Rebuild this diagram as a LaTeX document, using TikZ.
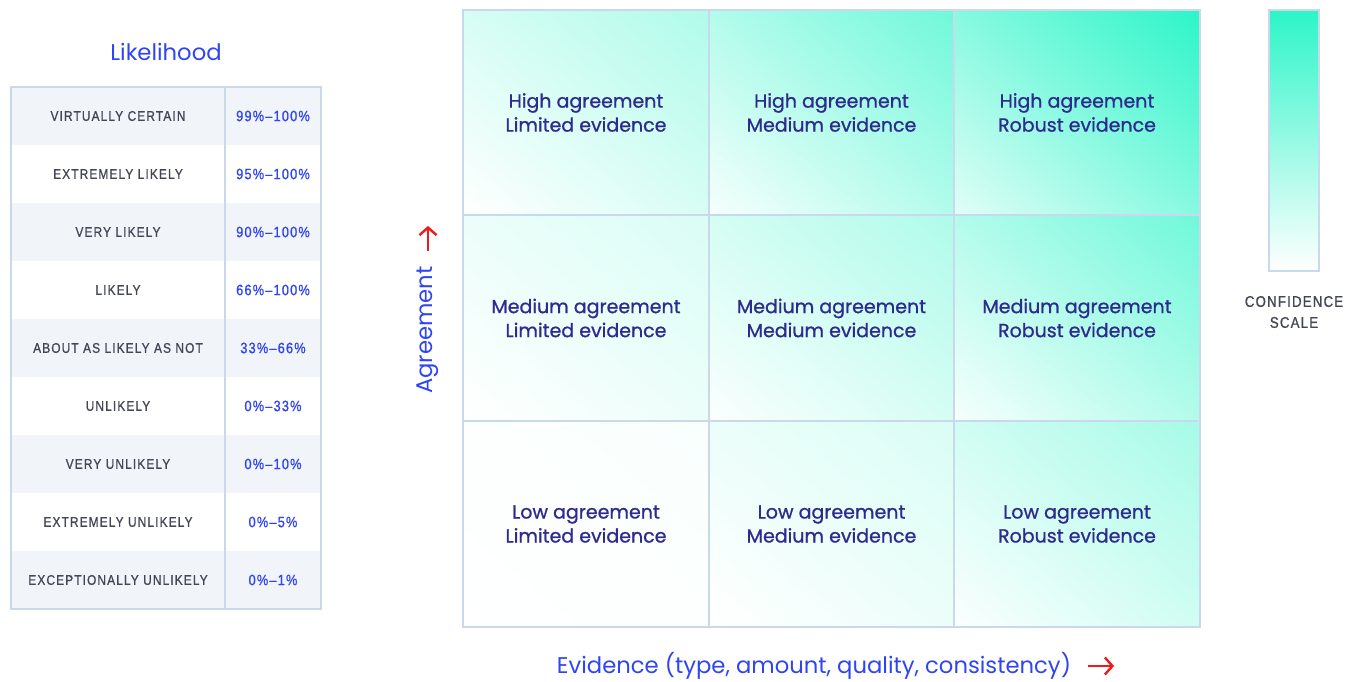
\documentclass[tikz,border=0pt]{standalone}
\usepackage{fontspec}
\setmainfont{Poppins}
\newfontfamily\cellfont[FakeBold=0.9]{Poppins}
\newfontfamily\capsfont[FakeStretch=0.85,LetterSpace=8,FakeBold=0.9]{Liberation Sans}
\usetikzlibrary{arrows.meta,positioning}

\definecolor{labelblue}{HTML}{2F45F2}
\definecolor{cellnavy}{HTML}{2E2B8E}
\definecolor{capsgray}{HTML}{434655}
\definecolor{gridline}{HTML}{C9D8EA}
\definecolor{rowgray}{HTML}{F1F5FA}
\definecolor{aqua}{HTML}{2CF5C8}
\definecolor{arrowred}{HTML}{F01818}
\colorlet{cellcolor}{aqua}
\colorlet{cellstart}{white}

% cellstart at the lower left corner, cellcolor at the upper right corner
\pgfdeclarefunctionalshading[cellcolor,cellstart]{diagfade}{\pgfpoint{0bp}{0bp}}{\pgfpoint{100bp}{100bp}}
	{\pgfshadecolortorgb{cellcolor}{\cellrgb}\pgfshadecolortorgb{cellstart}{\startrgb}}
	{add 50 sub 100 div
	 dup 0 lt {pop 0} if dup 1 gt {pop 1} if
	 dup dup
	 \cellrgbblue\space \startrgbblue\space sub mul \startrgbblue\space add
	 exch
	 \cellrgbgreen\space \startrgbgreen\space sub mul \startrgbgreen\space add
	 exch
	 3 -1 roll
	 \cellrgbred\space \startrgbred\space sub mul \startrgbred\space add
	 3 1 roll}

\begin{document}
\begin{tikzpicture}[x=1bp, y=-1bp,
		lrow/.style={minimum width=214bp, minimum height=58bp, inner sep=0pt,
			font=\capsfont\fontsize{14bp}{16bp}\selectfont, text=capsgray},
		rrow/.style={minimum width=96bp, minimum height=58bp, inner sep=0pt,
			font=\capsfont\fontsize{15bp}{16bp}\selectfont, text=labelblue},
		cell/.style={draw=gridline, line width=2bp, minimum width=245.7bp, minimum height=205.7bp,
			align=center, text=cellnavy, font=\cellfont\fontsize{19bp}{24bp}\selectfont},
		lvl/.style 2 args={/utils/exec={\colorlet{cellstart}{aqua!#1}\colorlet{cellcolor}{aqua!#2}},
			shade, shading=diagfade},
		axislabel/.style={text=labelblue, font=\fontsize{22.7bp}{26bp}\selectfont},
		redarrow/.style={draw=arrowred, line width=2.4bp, -{Straight Barb[length=7.5bp, width=17bp, line width=2.4bp]}}]
	\useasboundingbox (0,0) rectangle (1360,681);

	% likelihood table
	\node[axislabel] (title) at (166,52) {Likelihood};

	\node[lrow, fill=rowgray] (l1) at (118,116) {VIRTUALLY CERTAIN};
	\node[rrow, fill=rowgray] (r1) at (273,116) {99\%–100\%};
	\node[lrow] (l2) at (118,174) {EXTREMELY LIKELY};
	\node[rrow] (r2) at (273,174) {95\%–100\%};
	\node[lrow, fill=rowgray] (l3) at (118,232) {VERY LIKELY};
	\node[rrow, fill=rowgray] (r3) at (273,232) {90\%–100\%};
	\node[lrow] (l4) at (118,290) {LIKELY};
	\node[rrow] (r4) at (273,290) {66\%–100\%};
	\node[lrow, fill=rowgray] (l5) at (118,348) {ABOUT AS LIKELY AS NOT};
	\node[rrow, fill=rowgray] (r5) at (273,348) {33\%–66\%};
	\node[lrow] (l6) at (118,406) {UNLIKELY};
	\node[rrow] (r6) at (273,406) {0\%–33\%};
	\node[lrow, fill=rowgray] (l7) at (118,464) {VERY UNLIKELY};
	\node[rrow, fill=rowgray] (r7) at (273,464) {0\%–10\%};
	\node[lrow] (l8) at (118,522) {EXTREMELY UNLIKELY};
	\node[rrow] (r8) at (273,522) {0\%–5\%};
	\node[lrow, fill=rowgray] (l9) at (118,580) {EXCEPTIONALLY UNLIKELY};
	\node[rrow, fill=rowgray] (r9) at (273,580) {0\%–1\%};

	\draw[gridline, line width=2bp] (l1.north west) rectangle (r9.south east);
	\draw[gridline, line width=2bp] (l1.north east) -- (l9.south east);

	% confidence matrix
	\node[cell, lvl={0}{38}] (hl) at (586,112.5) {High agreement\\Limited evidence};
	\node[cell, lvl={4}{68}] (hm) at (831.5,112.5) {High agreement\\Medium evidence};
	\node[cell, lvl={14}{100}] (hr) at (1077,112.5) {High agreement\\Robust evidence};
	\node[cell, lvl={0}{18}] (ml) at (586,318) {Medium agreement\\Limited evidence};
	\node[cell, lvl={2}{38}] (mm) at (831.5,318) {Medium agreement\\Medium evidence};
	\node[cell, lvl={4}{68}] (mr) at (1077,318) {Medium agreement\\Robust evidence};
	\node[cell, lvl={0}{3}] (ll) at (586,524) {Low agreement\\Limited evidence};
	\node[cell, lvl={0}{18}] (lm) at (831.5,524) {Low agreement\\Medium evidence};
	\node[cell, lvl={2}{42}] (lr) at (1077,524) {Low agreement\\Robust evidence};

	% axes
	\node[axislabel, rotate=90] (agree) at (428,330) {Agreement};
	\coordinate (agreefoot) at (428,251);
	\coordinate (agreetip) at (428,226);
	\draw[redarrow] (agreefoot) -- (agreetip);

	\node[axislabel] (evid) at (814,666) {Evidence (type, amount, quality, consistency)};
	\coordinate (evidfoot) at (1088,666);
	\coordinate (evidtip) at (1114,666);
	\draw[redarrow] (evidfoot) -- (evidtip);

	% scale bar
	\node[draw=gridline, line width=2bp, minimum width=50bp, minimum height=261bp,
		top color=aqua, middle color=aqua!40, bottom color=white] (bar) at (1294,140.5) {};
	\node[align=center, text=capsgray, font=\capsfont\fontsize{15.5bp}{21bp}\selectfont] (scale) at (1294,312) {CONFIDENCE\\SCALE};
\end{tikzpicture}
\end{document}
